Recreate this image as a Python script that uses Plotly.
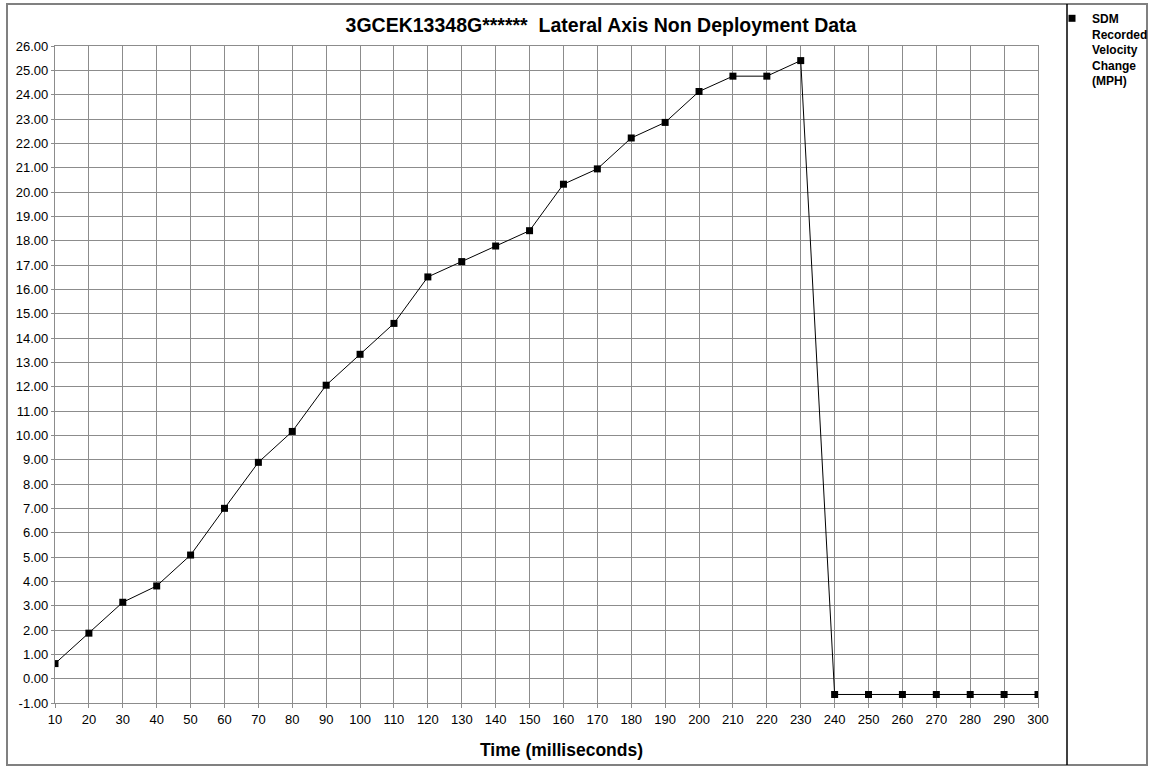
import plotly.graph_objects as go

time_ms = [10, 20, 30, 40, 50, 60, 70, 80, 90, 100, 110, 120, 130, 140, 150,
           160, 170, 180, 190, 200, 210, 220, 230, 240, 250, 260, 270, 280, 290, 300]
velocity_change = [0.62, 1.87, 3.14, 3.81, 5.08, 7.0, 8.89, 10.16, 12.06, 13.33,
                   14.6, 16.51, 17.14, 17.78, 18.41, 20.32, 20.95, 22.22, 22.86,
                   24.13, 24.76, 24.76, 25.40, -0.65, -0.65, -0.65, -0.65, -0.65,
                   -0.65, -0.65]
y_ticks = [float(v) for v in range(-1, 27)]
x_ticks = list(range(10, 301, 10))

title_text = "3GCEK13348G******\u00a0\u00a0Lateral Axis Non Deployment Data"
x_title = "Time (milliseconds)"
legend_name = "SDM<br>Recorded<br>Velocity<br>Change<br>(MPH)"

W, H = 1155, 766
L, R, T, B = 55, 117, 46, 63
pw, ph = W - L - R, H - T - B

def px(x):
    return (x - L) / pw

def py(y):
    return (H - B - y) / ph

font = "Liberation Sans, Arial, sans-serif"
grid = "#8c8c8c"

fig = go.Figure()
fig.add_trace(go.Scatter(
    x=time_ms, y=velocity_change, mode="lines+markers",
    line=dict(color="black", width=1),
    marker=dict(symbol="square", size=7, color="black"),
    showlegend=False,
))
# legend entry (symbol only, like the reference's compact key)
fig.add_trace(go.Scatter(
    x=[None], y=[None], mode="markers", name="<b>" + legend_name + "</b>",
    marker=dict(symbol="square", size=7, color="black"),
    showlegend=True,
))

fig.update_layout(
    width=W, height=H,
    margin=dict(l=L, r=R, t=T, b=B, autoexpand=False),
    paper_bgcolor="white", plot_bgcolor="white",
    font=dict(family=font, size=13, color="black"),
    title=dict(text="<b>" + title_text + "</b>", x=px(601), xref="paper",
               xanchor="center", y=1 - 25 / H, yref="container", yanchor="middle",
               font=dict(size=19.5, color="black", family=font)),
    xaxis=dict(range=[10, 300], tickvals=x_ticks, ticktext=[str(v) for v in x_ticks],
               showgrid=True, gridcolor=grid, gridwidth=1.3,
               showline=True, linecolor=grid, linewidth=1.3, mirror=True,
               ticks="outside", ticklen=4, tickcolor=grid, tickwidth=1.3,
               zeroline=False,
               tickfont=dict(size=13, color="black")),
    yaxis=dict(range=[-1, 26], tickvals=y_ticks,
               ticktext=["%.2f" % v for v in y_ticks],
               showgrid=True, gridcolor=grid, gridwidth=1.3,
               showline=True, linecolor=grid, linewidth=1.3, mirror=True,
               ticks="outside", ticklen=3, tickcolor=grid, tickwidth=1.3,
               zeroline=False, tickfont=dict(size=13, color="black")),
    legend=dict(x=px(1052), y=py(4), xanchor="left", yanchor="top",
                xref="paper", yref="paper", valign="top",
                font=dict(size=12, color="black", family=font),
                bgcolor="rgba(0,0,0,0)", itemwidth=30, tracegroupgap=0),
    annotations=[
        dict(text="<b>" + x_title + "</b>", xref="paper", yref="paper",
             x=px(561), y=py(750), xanchor="center", yanchor="middle",
             showarrow=False, font=dict(size=17.5, color="black", family=font)),
    ],
    shapes=[
        dict(type="rect", xref="paper", yref="paper",
             x0=px(7), x1=px(1147), y0=py(765), y1=py(4),
             line=dict(color="#808080", width=2), layer="below"),
        dict(type="line", xref="paper", yref="paper",
             x0=px(1067), x1=px(1067), y0=py(765), y1=py(4),
             line=dict(color="black", width=1.5)),
    ],
)

fig.write_html("out.html")
